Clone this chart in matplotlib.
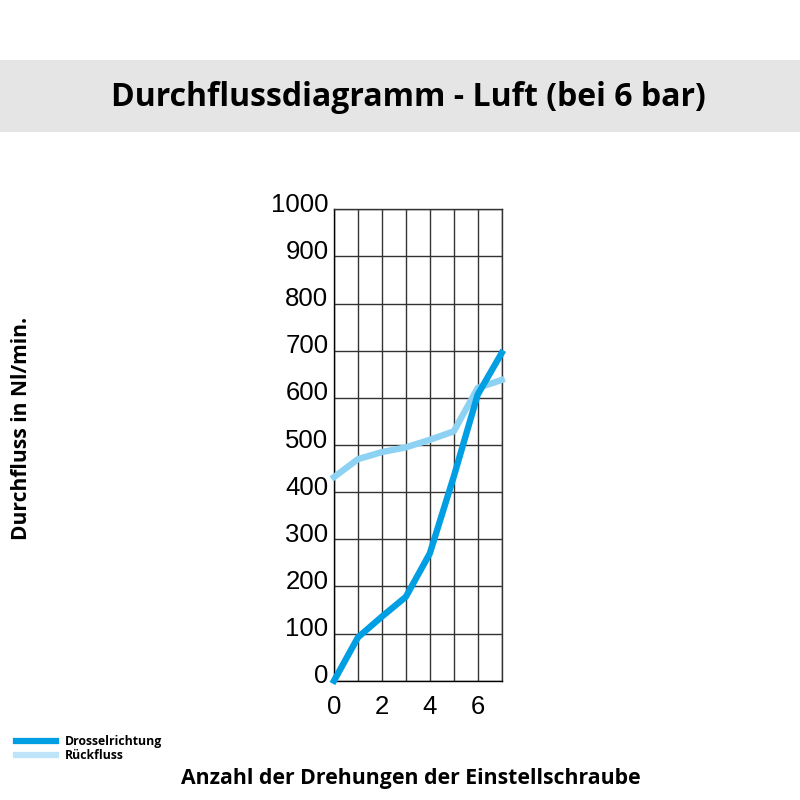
import matplotlib.pyplot as plt
import matplotlib.patches as mpatches
import matplotlib.transforms as mtransforms
from matplotlib.lines import Line2D

# turns of the adjusting screw
turns = [0, 1, 2, 3, 4, 5, 6, 7]
# flow in Nl/min
drossel = [0, 92, 136, 178, 270, 433, 607, 695]
rueck = [432, 470, 485, 495, 511, 529, 621, 638]

y_ticks = [0, 100, 200, 300, 400, 500, 600, 700, 800, 900, 1000]
x_ticks = [0, 2, 4, 6]

dark_blue = '#009FE3'
light_blue = '#8DD2F2'

fig = plt.figure(figsize=(8, 8), dpi=100)

# grey title band
fig.patches.append(mpatches.Rectangle((0, 0.835), 1, 0.09, transform=fig.transFigure,
                                      facecolor='#E5E5E5', edgecolor='none', zorder=0))
fig.text(0.51, 0.878, 'Durchflussdiagramm - Luft (bei 6 bar)', ha='center', va='center',
         fontsize=23, fontweight='bold', family='Open Sans')

ax = fig.add_axes([0.4175, 0.1491, 0.2096, 0.5893])
ax.plot(turns, rueck, color=light_blue, lw=4.6, clip_on=False, zorder=3)
ax.plot(turns, drossel, color=dark_blue, lw=4.6, clip_on=False, zorder=4)

ax.set_xlim(0, 7)
ax.set_ylim(0, 1000)
ax.set_xticks(range(0, 8), minor=True)
ax.set_xticks(x_ticks)
ax.set_yticks(y_ticks)
ax.grid(True, which='both', color='#333333', lw=1)
ax.tick_params(which='both', length=0, labelsize=18.5)
ax.tick_params(axis='y', pad=4)
ax.tick_params(axis='x', pad=10)
up = mtransforms.ScaledTranslation(0, 7 / 100, fig.dpi_scale_trans)
for lab in ax.get_yticklabels():
    lab.set_family('Liberation Sans')
    lab.set_transform(lab.get_transform() + up)
for lab in ax.get_xticklabels():
    lab.set_family('Liberation Sans')
for s in ax.spines.values():
    s.set_color('#333333')
    s.set_linewidth(1)
ax.spines['left'].set_color('black')
ax.spines['bottom'].set_color('black')

fig.text(0.0275, 0.464, 'Durchfluss in Nl/min.', rotation=90, ha='center', va='center',
         fontsize=15.1, fontweight='bold', family='Open Sans')
fig.text(0.514, 0.027, 'Anzahl der Drehungen der Einstellschraube', ha='center', va='center',
         fontsize=15.3, fontweight='bold', family='Open Sans')

handles = [Line2D([], [], color=dark_blue, lw=4.5),
           Line2D([], [], color='#BDE4F8', lw=4.5)]
fig.legend(handles, ['Drosselrichtung', 'Rückfluss'], loc='upper left',
           bbox_to_anchor=(0.012, 0.089), frameon=False, borderpad=0,
           handlelength=3.3, handletextpad=0.7, labelspacing=0.1,
           prop={'family': 'Open Sans', 'weight': 'bold', 'size': 8.8})

fig.savefig('out.png', dpi=100)
